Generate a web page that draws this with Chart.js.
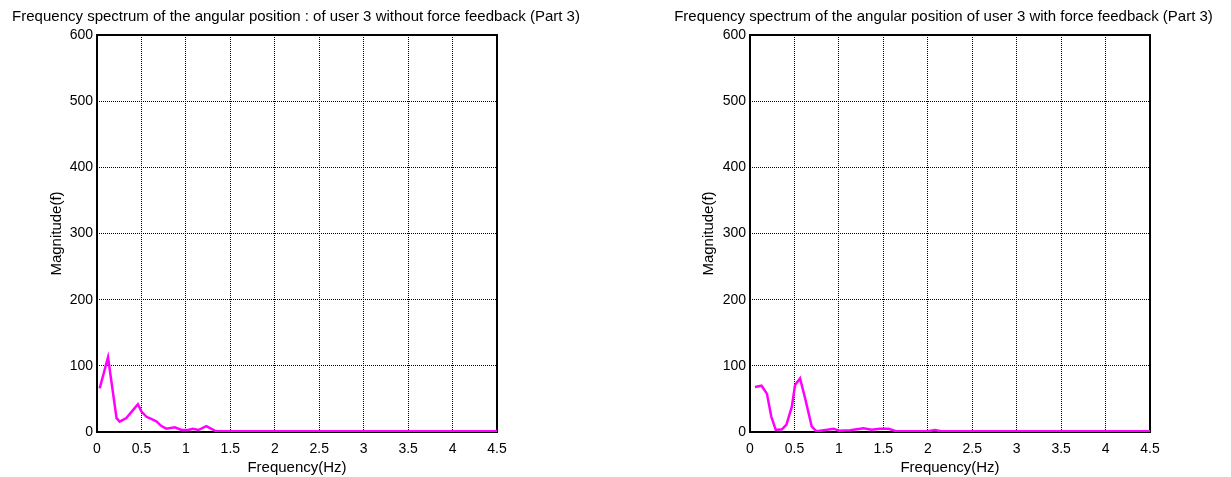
<!DOCTYPE html>
<html><head><meta charset="utf-8">
<script src="https://cdn.jsdelivr.net/npm/chart.js@4.4.1/dist/chart.umd.min.js"></script>
<style>
html,body{margin:0;padding:0;background:#fff;width:1231px;height:477px;overflow:hidden;}
.box{position:absolute;top:0;height:477px;}
</style></head><body>
<div class="box" style="left:0px;width:592px;"><canvas id="c1" width="592" height="477"></canvas></div>
<div class="box" style="left:660px;width:567px;"><canvas id="c2" width="567" height="477"></canvas></div>
<script>
const xTicks = [0, 0.5, 1, 1.5, 2, 2.5, 3, 3.5, 4, 4.5];
const yTicks = [0, 100, 200, 300, 400, 500, 600];

const leftTitle = "Frequency spectrum of the angular position : of user 3 without force feedback (Part 3)";
const rightTitle = "Frequency spectrum of the angular position of user 3 with force feedback (Part 3)";
const xLabel = "Frequency(Hz)";
const yLabel = "Magnitude(f)";

const leftFreq = [0.03, 0.124, 0.22, 0.255, 0.33, 0.405, 0.46, 0.5, 0.556, 0.61, 0.67, 0.725, 0.78, 0.875, 0.95, 1.025, 1.08, 1.14, 1.23, 1.325, 1.36, 1.5, 2.0, 2.5, 3.0, 3.5, 4.0, 4.5];
const leftMag  = [66, 113, 21, 15.6, 21, 33, 42, 31, 23, 20, 16, 9, 5, 7, 3, 3, 5, 3, 9, 2, 1, 1, 1, 1, 1, 1, 1, 1];

const rightFreq = [0.056, 0.13, 0.19, 0.24, 0.29, 0.36, 0.41, 0.47, 0.507, 0.563, 0.62, 0.695, 0.75, 0.85, 0.94, 1.0, 1.126, 1.276, 1.37, 1.46, 1.56, 1.65, 2.0, 2.08, 2.15, 2.5, 3.0, 3.5, 4.0, 4.5];
const rightMag  = [68, 70, 58, 23, 3, 4, 11, 38, 71, 81, 51, 8, 1, 3, 5, 2, 2.5, 5.5, 3.5, 5, 5, 1, 1, 3, 1, 1, 1, 1, 1, 1];

const FONT = "'Liberation Sans', Arial, Helvetica, sans-serif";
Chart.defaults.font.family = FONT;
Chart.defaults.font.size = 14;
Chart.defaults.color = '#000';

const framePlugin = {
  id: 'frame',
  beforeDatasetsDraw(chart) {
    const a = chart.chartArea, ctx = chart.ctx;
    ctx.save();
    ctx.strokeStyle = '#000';
    ctx.lineWidth = 2;
    ctx.strokeRect(a.left, a.top, a.right - a.left, a.bottom - a.top);
    ctx.restore();
  }
};

function makeChart(id, title, freq, mag, yAxisWidth, y2Width, yTitlePad) {
  const pts = freq.map((f, i) => ({x: f, y: mag[i]}));
  return new Chart(document.getElementById(id), {
    type: 'line',
    data: { datasets: [{ data: pts, borderColor: '#ff00ff', borderWidth: 2.5, pointRadius: 0, tension: 0, fill: false }] },
    options: {
      responsive: false, animation: false, events: [],
      layout: { padding: 0 },
      plugins: {
        legend: { display: false }, tooltip: { enabled: false },
        title: { display: true, text: title, font: { size: 15, weight: 'normal' }, color: '#000', padding: { top: 8, bottom: 9 } }
      },
      scales: {
        x: {
          type: 'linear', min: 0, max: 4.5,
          afterBuildTicks(s) { s.ticks = xTicks.map(v => ({value: v})); },
          afterFit(s) { s.height = 45; },
          ticks: { padding: 9, maxRotation: 0, autoSkip: false, font: { size: 14 }, callback: v => String(v) },
          grid: { color: '#000', lineWidth: 1, drawTicks: false },
          border: { display: false, dash: [1, 1] },
          title: { display: true, text: xLabel, padding: { top: 0, bottom: 0.5 }, font: { size: 15 } }
        },
        y: {
          type: 'linear', min: 0, max: 600, position: 'left',
          afterBuildTicks(s) { s.ticks = yTicks.map(v => ({value: v})); },
          afterFit(s) { s.width = yAxisWidth; },
          ticks: { padding: 4, font: { size: 14 }, callback: v => String(v) },
          grid: { color: '#000', lineWidth: 1, drawTicks: false },
          border: { display: false, dash: [1, 1] },
          title: { display: true, text: yLabel, padding: { top: yTitlePad, bottom: 0 }, font: { size: 15 } }
        },
        y2: {
          type: 'linear', position: 'right', display: true,
          afterFit(s) { s.width = y2Width; },
          ticks: { display: false }, grid: { display: false }, border: { display: false }
        }
      }
    },
    plugins: [framePlugin]
  });
}

makeChart('c1', leftTitle, leftFreq, leftMag, 97, 95, 48);
makeChart('c2', rightTitle, rightFreq, rightMag, 90, 77, 40);
</script>
</body></html>
